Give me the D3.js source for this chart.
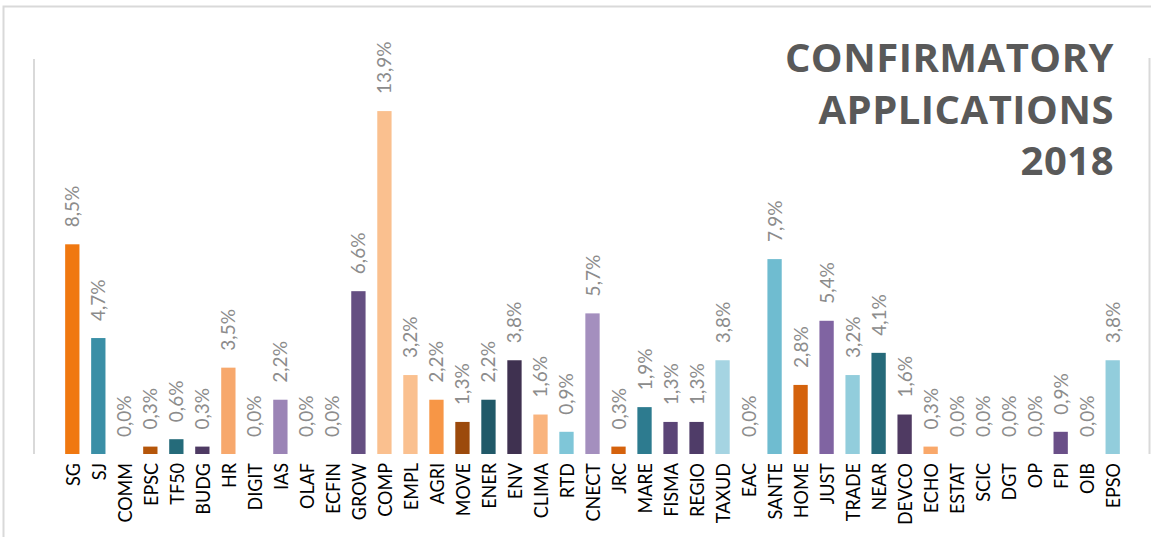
<!DOCTYPE html>
<html>
<head>
<meta charset="utf-8">
<script src="https://cdn.jsdelivr.net/npm/d3@7"></script>
<style>
  body { margin: 0; background: #fff; }
  svg { display: block; font-family: Lato, "Open Sans", sans-serif; }
</style>
</head>
<body>
<div id="chart"></div>
<script>
// categories and shares (%)
var categories = ["SG","SJ","COMM","EPSC","TF50","BUDG","HR","DIGIT","IAS","OLAF","ECFIN","GROW","COMP",
  "EMPL","AGRI","MOVE","ENER","ENV","CLIMA","RTD","CNECT","JRC","MARE","FISMA","REGIO","TAXUD","EAC",
  "SANTE","HOME","JUST","TRADE","NEAR","DEVCO","ECHO","ESTAT","SCIC","DGT","OP","FPI","OIB","EPSO"];
var values = [8.5,4.7,0.0,0.3,0.6,0.3,3.5,0.0,2.2,0.0,0.0,6.6,13.9,
  3.2,2.2,1.3,2.2,3.8,1.6,0.9,5.7,0.3,1.9,1.3,1.3,3.8,0.0,
  7.9,2.8,5.4,3.2,4.1,1.6,0.3,0.0,0.0,0.0,0.0,0.9,0.0,3.8];
var colors = ["#f07810","#3a8fa6","#999999","#b5560a","#256b7a","#4e3a63","#f7a86c","#999999","#9b84b6","#999999","#999999","#654f82","#fac08f",
  "#fac08f","#f79646","#9c4a0c","#215968","#3f3150","#f9b47e","#7fc6d8","#a48fbe","#d5620c","#2d7b8f","#5b4577","#4f3c68","#a5d4e2","#999999",
  "#6fbcd0","#d4620c","#8064a2","#92cddc","#266a7a","#4f3a62","#f9a86a","#999999","#999999","#999999","#999999","#6a4f88","#999999","#92cddc"];
var titleLines = ["CONFIRMATORY", "APPLICATIONS", "2018"];

var W = 1151, H = 537;
var baseY = 454;

var svg = d3.select("#chart")
  .append("svg")
    .attr("width", W)
    .attr("height", H);

// frame lines
svg.append("path")
  .attr("d", "M3.5," + H + "V6.5H" + W)
  .attr("fill", "none")
  .attr("stroke", "#d9d9d9")
  .attr("stroke-width", 2);
svg.append("line")
  .attr("x1", 34).attr("x2", 34).attr("y1", 59).attr("y2", baseY)
  .attr("stroke", "#d9d9d9").attr("stroke-width", 2);
svg.append("line")
  .attr("x1", 1149.5).attr("x2", 1149.5).attr("y1", 58).attr("y2", baseY)
  .attr("stroke", "#d9d9d9").attr("stroke-width", 2);

var x = d3.scaleBand()
  .domain(categories)
  .range([59.3, 1125.7])
  .paddingInner(0.45)
  .paddingOuter(0.225);

var y = d3.scaleLinear()
  .domain([0, 14])
  .range([baseY, baseY - 14 * 24.67]);

// bars
svg.selectAll("rect.bar")
  .data(values)
  .enter()
  .append("rect")
    .attr("class", "bar")
    .attr("x", function(d, i) { return x(categories[i]); })
    .attr("width", x.bandwidth())
    .attr("y", function(d) { return y(d); })
    .attr("height", function(d) { return y(0) - y(d); })
    .attr("fill", function(d, i) { return colors[i]; });

// value labels
svg.selectAll("text.val")
  .data(values)
  .enter()
  .append("text")
    .attr("class", "val")
    .attr("transform", function(d, i) {
      return "translate(" + (x(categories[i]) + x.bandwidth() / 2 + 7) + "," + (y(d) - 17) + ") rotate(-90)";
    })
    .attr("font-size", 19)
    .attr("fill", "#8c8c8c")
    .text(function(d) { return d.toFixed(1).replace(".", ",") + "%"; });

// category axis
var axis = svg.append("g")
  .attr("transform", "translate(0," + baseY + ")")
  .call(d3.axisBottom(x).tickSize(0).tickPadding(0));
axis.select(".domain").remove();
axis.selectAll("text")
  .attr("font-family", "Lato, 'Open Sans', sans-serif")
  .attr("font-size", 20)
  .attr("fill", "#000")
  .attr("text-anchor", "end")
  .attr("dy", null)
  .attr("y", 0)
  .attr("transform", "translate(7.5,9) rotate(-90) scale(0.9,1)");

// title
svg.append("g")
  .selectAll("text")
  .data(titleLines)
  .enter()
  .append("text")
    .attr("x", 1114)
    .attr("y", function(d, i) { return 72 + i * 51.5; })
    .attr("text-anchor", "end")
    .attr("font-family", "'Open Sans', Lato, sans-serif")
    .attr("font-size", 40)
    .attr("font-weight", "bold")
    .attr("letter-spacing", 0.5)
    .attr("fill", "#595959")
    .text(function(d) { return d; });
</script>
</body>
</html>
